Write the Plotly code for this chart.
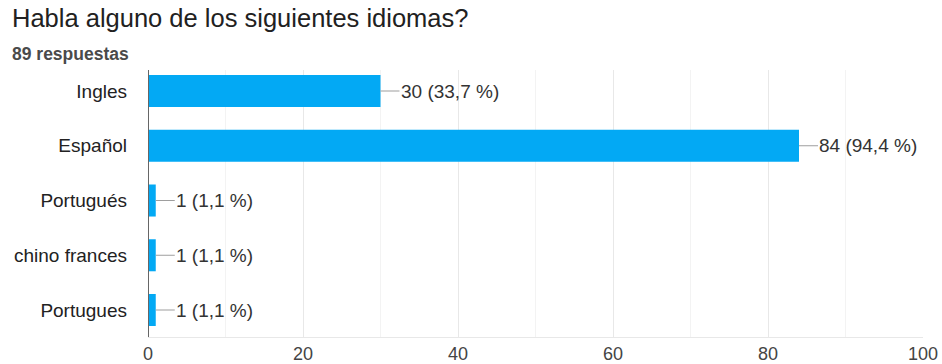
import plotly.graph_objects as go

categories = ["Ingles", "Español", "Portugués", "chino frances", "Portugues"]
counts = [30, 84, 1, 1, 1]
percents = ["33,7", "94,4", "1,1", "1,1", "1,1"]
x_ticks = [0, 20, 40, 60, 80, 100]

W, H = 942, 364
ML, MR, MT, MB = 148, 19, 70, 27
PW, PH = W - ML - MR, H - MT - MB

FONT = "Liberation Sans, Arial"

fig = go.Figure(go.Bar(
    y=categories, x=counts, orientation="h",
    marker=dict(color="#03a9f4", line=dict(width=0)),
    width=0.585, hoverinfo="skip",
))

annotations = []
for c, v, p in zip(categories, counts, percents):
    annotations.append(dict(
        x=v, y=c, xref="x", yref="y",
        text=f"{v} ({p} %)", showarrow=True, arrowhead=0, arrowwidth=1.2,
        arrowcolor="#9e9e9e", ax=19, ay=0, axref="pixel", ayref="pixel",
        xanchor="left", yanchor="middle", standoff=0, startstandoff=0,
        font=dict(family=FONT, size=19, color="#333333"),
        borderpad=0,
    ))

annotations.append(dict(
    x=(10 - ML) / PW, y=1 + (MT - 18) / PH,
    xref="paper", yref="paper", xanchor="left", yanchor="middle",
    text="Habla alguno de los siguientes idiomas?", showarrow=False,
    font=dict(family=FONT, size=25.5, color="#212121"),
))
annotations.append(dict(
    x=(10 - ML) / PW, y=1 + (MT - 54) / PH,
    xref="paper", yref="paper", xanchor="left", yanchor="middle",
    text="89 respuestas", showarrow=False,
    font=dict(family=FONT, size=17.5, color="#4a4a4a", weight="bold"),
))

fig.update_layout(
    width=W, height=H,
    margin=dict(l=ML, r=MR, t=MT, b=MB, autoexpand=False),
    paper_bgcolor="white", plot_bgcolor="white",
    showlegend=False,
    annotations=annotations,
    xaxis=dict(
        range=[0, 100], tickvals=x_ticks, ticktext=[str(t) for t in x_ticks],
        showgrid=True, gridcolor="#e8e8e8", gridwidth=1,
        minor=dict(dtick=10, showgrid=True, gridcolor="#f3f3f3", gridwidth=1),
        zeroline=False, showline=True, linecolor="#e8e8e8", linewidth=1, mirror=False,
        tickfont=dict(family=FONT, size=18, color="#444444"),
        ticks="", automargin=False, fixedrange=True,
    ),
    yaxis=dict(
        range=[4.493, -0.384], showgrid=False, zeroline=False,
        showline=False, automargin=False,
        tickfont=dict(family=FONT, size=19, color="#222222"),
        ticks="", ticklabelstandoff=20,
    ),
    shapes=[dict(type="line", xref="x", yref="paper", x0=0, x1=0, y0=0, y1=1,
                 line=dict(color="#666666", width=2))],
    font=dict(family=FONT),
)

fig.write_html("out.html")
